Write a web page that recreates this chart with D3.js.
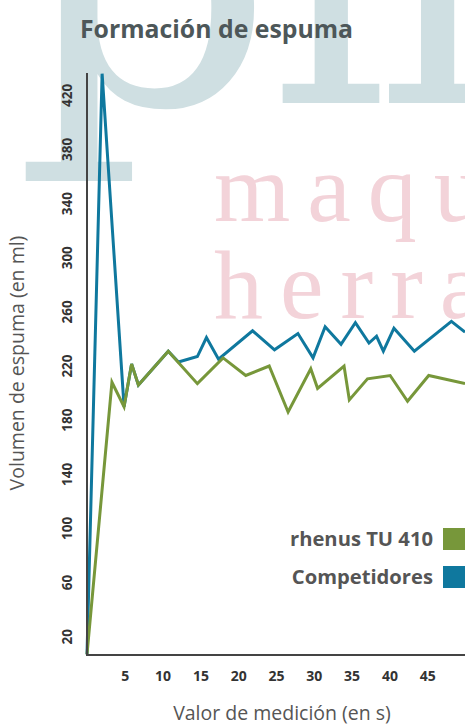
<!DOCTYPE html>
<html>
<head>
<meta charset="utf-8">
<script src="https://cdn.jsdelivr.net/npm/d3@7"></script>
<style>
  html, body { margin: 0; padding: 0; background: #fff; overflow: hidden; }
</style>
</head>
<body>
<svg id="chart" width="465" height="725"></svg>
<script>
// seconds and foam volume (ml)
var rhenusTime = [0, 3.3, 4.9, 5.9, 6.8, 10.75, 14.6, 18, 21, 24.1, 26.6, 29.6, 30.5, 34, 34.7, 37.1, 40.1, 42.4, 45.2, 50];
var rhenusValue = [7, 208, 190, 221.5, 206, 231, 207, 226, 213, 220, 186, 218, 203.5, 220, 195, 210.5, 213, 194, 213, 207];

var compTime = [0, 2, 4.9, 5.9, 6.8, 10.75, 12.1, 14.6, 15.8, 17.4, 21.9, 24.8, 27.9, 29.9, 31.5, 33.6, 35.5, 37.3, 38.3, 39.2, 40.6, 43.3, 48.2, 50];
var compValue = [7, 436, 190, 221.5, 206, 231, 223, 227, 241, 225, 246, 232, 244, 226, 249, 236, 252, 237, 242, 231, 248, 231, 253, 245];

var yTicks = [20, 60, 100, 140, 180, 220, 260, 300, 340, 380, 420];
var xTicks = [5, 10, 15, 20, 25, 30, 35, 40, 45];

var seriesNames = ["rhenus TU 410", "Competidores"];
var seriesColors = ["#77973a", "#0f789e"];

var svg = d3.select("#chart");

// watermark behind everything
var wm = svg.append("g").attr("class", "watermark");
wm.append("text")
    .attr("transform", "translate(14,104) scale(1.1,1)")
    .attr("font-family", "DejaVu Serif")
    .attr("font-size", 370)
    .attr("fill", "#cfdfe2")
    .text("p");
wm.append("text")
    .attr("x", 272)
    .attr("y", 103)
    .attr("font-family", "DejaVu Serif")
    .attr("font-size", 370)
    .attr("letter-spacing", -12)
    .attr("fill", "#cfdfe2")
    .text("ll");
wm.append("text")
    .attr("x", 214)
    .attr("y", 221)
    .attr("font-family", "Liberation Serif")
    .attr("font-size", 98)
    .attr("letter-spacing", 17)
    .attr("fill", "#f3d3d9")
    .text("maqu");
wm.append("text")
    .attr("x", 214)
    .attr("y", 318)
    .attr("font-family", "Liberation Serif")
    .attr("font-size", 98)
    .attr("letter-spacing", 17)
    .attr("fill", "#f3d3d9")
    .text("herra");

var x = d3.scaleLinear().domain([0, 50]).range([87, 465]);
var y = d3.scaleLinear().domain([6.5, 436.5]).range([655, 73]);

svg.append("text")
    .attr("x", 80)
    .attr("y", 38)
    .attr("font-family", "Open Sans")
    .attr("font-weight", "bold")
    .attr("font-size", 24.8)
    .attr("fill", "#4d5759")
    .text("Formación de espuma");

// y axis labels, turned sideways
var yAxis = svg.append("g")
    .call(d3.axisLeft(y).tickValues(yTicks).tickSize(0));
yAxis.select(".domain").remove();
yAxis.selectAll(".tick").attr("transform", null);
yAxis.selectAll("text")
    .attr("x", null)
    .attr("dy", "0.35em")
    .attr("text-anchor", "middle")
    .attr("transform", function (d) { return "translate(67," + y(d) + ") rotate(-90)"; })
    .attr("font-family", "Open Sans")
    .attr("font-weight", "bold")
    .attr("font-size", 13.5)
    .attr("fill", "#333");

var xAxis = svg.append("g")
    .attr("transform", "translate(0,668)")
    .call(d3.axisBottom(x).tickValues(xTicks).tickSize(0));
xAxis.select(".domain").remove();
xAxis.selectAll("text")
    .attr("font-family", "Open Sans")
    .attr("font-weight", "bold")
    .attr("font-size", 14)
    .attr("fill", "#333");

// lines (competitors first, rhenus over it)
var line = d3.line()
    .x(function (d) { return x(d[0]); })
    .y(function (d) { return y(d[1]); });

var series = [
    d3.zip(compTime, compValue),
    d3.zip(rhenusTime, rhenusValue)
];
var colorsInDrawOrder = [seriesColors[1], seriesColors[0]];

series.forEach(function (pts, i) {
    svg.append("path")
        .attr("d", line(pts))
        .attr("fill", "none")
        .attr("stroke", colorsInDrawOrder[i])
        .attr("stroke-width", 3)
        .attr("stroke-linejoin", "miter");
});

// axis frame
svg.append("line")
    .attr("x1", x(0)).attr("x2", x(0))
    .attr("y1", y.range()[1]).attr("y2", y.range()[0] + 1)
    .attr("stroke", "#444").attr("stroke-width", 2);
svg.append("line")
    .attr("x1", x(0) - 1).attr("x2", x(50))
    .attr("y1", y.range()[0]).attr("y2", y.range()[0])
    .attr("stroke", "#444").attr("stroke-width", 2);

// axis titles
svg.append("text")
    .attr("transform", "translate(24,363) rotate(-90)")
    .attr("text-anchor", "middle")
    .attr("font-family", "Open Sans")
    .attr("font-size", 19.5)
    .attr("fill", "#555")
    .text("Volumen de espuma (en ml)");
svg.append("text")
    .attr("x", 282)
    .attr("y", 720)
    .attr("text-anchor", "middle")
    .attr("font-family", "Open Sans")
    .attr("font-size", 19.5)
    .attr("fill", "#555")
    .text("Valor de medición (en s)");

// legend
var legend = svg.append("g").selectAll("g")
    .data(seriesNames)
    .join("g")
    .attr("transform", function (d, i) { return "translate(0," + (539 + i * 38) + ")"; });
legend.append("text")
    .attr("x", 433)
    .attr("dy", "0.35em")
    .attr("text-anchor", "end")
    .attr("font-family", "Open Sans")
    .attr("font-weight", "bold")
    .attr("font-size", 20.2)
    .attr("fill", "#555")
    .text(function (d) { return d; });
legend.append("rect")
    .attr("x", 443)
    .attr("y", -11)
    .attr("width", 24)
    .attr("height", 22)
    .attr("fill", function (d, i) { return seriesColors[i]; });
</script>
</body>
</html>
